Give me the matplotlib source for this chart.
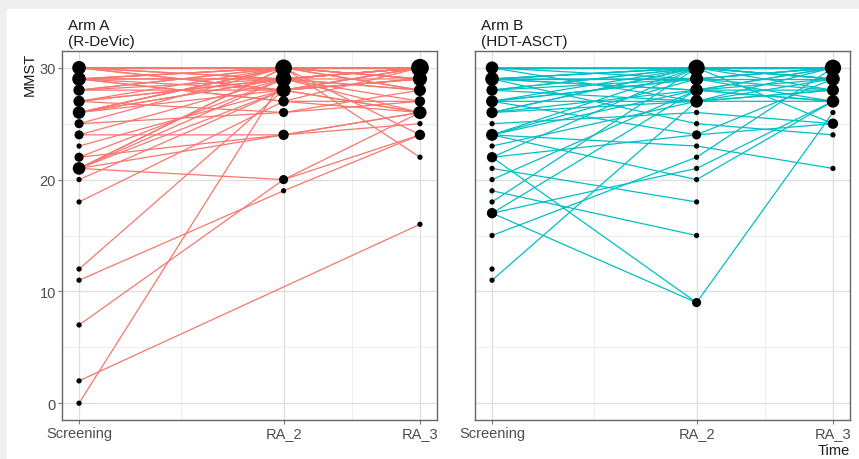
import numpy as np
import matplotlib
matplotlib.use('Agg')
import matplotlib.pyplot as plt
from matplotlib.patches import Rectangle

plt.rcParams['font.family'] = ['Liberation Sans', 'DejaVu Sans']

visits = ["Screening", "RA_2", "RA_3"]
visit_month = [0, 6, 10]

arm_titles = ["Arm A\n(R-DeVic)", "Arm B\n(HDT-ASCT)"]
arm_colors = ["#F8766D", "#00BFC4"]

nan = np.nan

# MMST per patient at each visit, arm A
a_screen = [30, 30, 30, 30, 30, 29, 29, 29, 29, 29, 28, 28, 28, 27, 27, 27, 26, 26, 26, 26,
            25, 25, 24, 24, 23, 22, 22, 21, 21, 21, 21, 20, 18, 12, 11, 7, 2, 0, 30, 26,
            30, 30, 29, 29, 29, 28, 27, 26, 21, 21]
a_ra2 = [30, 30, 29, 28, 30, 30, 29, 30, 28, 27, 30, 29, 28, 30, 29, 26, 30, 28, 29, 30,
         30, 26, 24, 29, 28, 24, 29, 20, 30, 24, 30, 28, 27, 28, 19, 20, nan, 29, 30, 29,
         29, 28, 30, 29, 27, 30, 29, 30, 29, 28]
a_ra3 = [30, 29, 30, 30, 22, 30, 30, 29, 29, 30, 30, 28, 26, 30, 29, 27, 30, 29, 26, 24,
         30, 28, 26, 30, 29, 25, 30, 24, 30, 26, 28, 30, 27, 30, 24, 26, 16, 28, 30, 30,
         30, 29, 28, 30, 26, 29, 27, 29, 30, 26]

# MMST per patient at each visit, arm B
b_screen = [30, 30, 30, 30, 29, 29, 29, 29, 29, 28, 28, 28, 27, 27, 27, 27, 26, 26, 26,
            25, 24, 24, 24, 24, 23, 22, 22, 21, 20, 19, 18, 17, 17, 17, 15, 12, 11, 30, 29,
            30, 29, 29, 28, 27, 26, 24, 22]
b_ra2 = [30, 29, 30, 27, 30, 30, 28, 29, 25, 30, 27, 29, 30, 29, 27, 24, 30, 28, 30,
         26, 30, 29, 23, 20, 27, 9, 24, 18, 28, 15, 30, 9, 21, 28, 22, nan, 27, 30, 29,
         30, 30, 28, 30, 29, 27, 28, 30]
b_ra3 = [30, 30, 29, 28, 30, 29, 27, 30, 24, 30, 27, nan, 28, 30, 29, 25, 30, 27, nan,
         25, 30, 28, 21, 27, 30, 26, 29, nan, 30, nan, 29, nan, 27, 28, 30, nan, nan, 30, 29,
         30, 29, 30, 30, 27, 28, 29, 25]

arms = [(a_screen, a_ra2, a_ra3), (b_screen, b_ra2, b_ra3)]

fig = plt.figure(figsize=(8.59, 4.60), dpi=100)
# screenshot-like light grey frame
fig.patches.append(Rectangle((0, 0), 1, 1, transform=fig.transFigure, color="#efefef", zorder=-2))
fig.patches.append(Rectangle((7 / 859, 0), 1, 1 - 10 / 460, transform=fig.transFigure,
                             color="white", zorder=-1))

# counts for point size (shared scale)
counts_all = []
for arm in arms:
    for vals in arm:
        v = np.array(vals, dtype=float)
        v = v[~np.isnan(v)]
        _, c = np.unique(v, return_counts=True)
        counts_all.extend(c)
nmax = max(counts_all)

def size_of(n):
    d = 3.8 + (12.8 - 3.8) * ((n - 1) / (nmax - 1)) ** 0.4
    return d ** 2

panel_left = [62 / 859, 475 / 859]
for k, arm in enumerate(arms):
    ax = fig.add_axes([panel_left[k], 39 / 460, 375 / 859, 369 / 460])
    data = np.array(arm, dtype=float)  # visits x patients
    for p in range(data.shape[1]):
        y = data[:, p]
        ok = ~np.isnan(y)
        if ok.sum() > 1:
            ax.plot(np.array(visit_month)[ok], y[ok], color=arm_colors[k], lw=0.9, zorder=2)
    for i, m in enumerate(visit_month):
        v = data[i][~np.isnan(data[i])]
        vals, c = np.unique(v, return_counts=True)
        ax.scatter(np.full(len(vals), m), vals, s=[size_of(n) for n in c],
                   color="black", edgecolors="none", zorder=3)

    ax.set_xlim(-0.5, 10.5)
    ax.set_ylim(-1.5, 31.5)
    ax.set_xticks(visit_month)
    ax.set_xticklabels(visits)
    ax.set_xticks([3, 8], minor=True)
    ax.set_yticks([0, 10, 20, 30])
    ax.set_yticks([5, 15, 25], minor=True)
    ax.grid(which="major", color="#dedede", lw=0.9, zorder=0)
    ax.grid(which="minor", color="#eeeeee", lw=0.7, zorder=0)
    ax.set_axisbelow(True)
    for sp in ax.spines.values():
        sp.set_color("#666666")
        sp.set_linewidth(1.0)
    ax.tick_params(which="minor", length=0)
    ax.tick_params(which="major", length=3, color="#777777", labelsize=10.5,
                   labelcolor="#4d4d4d", pad=1.5)
    if k == 1:
        ax.tick_params(axis="y", left=False, labelleft=False)
    ax.set_title(arm_titles[k], loc="left", fontsize=11, color="#1a1a1a",
                 x=6 / 375, pad=4, linespacing=1.2)

fig.text(30 / 859, 1 - 53 / 460, "MMST", rotation=90, ha="center", va="top",
         fontsize=10.5, color="#1a1a1a")
fig.text(850 / 859, 1 - 451 / 460, "Time", ha="right", va="center",
         fontsize=10.5, color="#1a1a1a")

fig.savefig("out.png", dpi=100)
